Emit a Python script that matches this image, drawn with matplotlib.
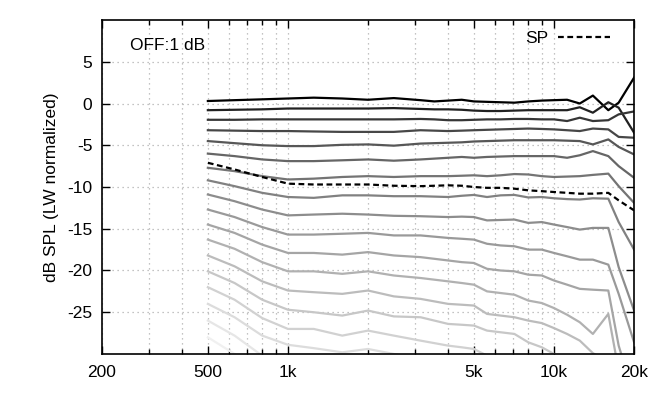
#!/usr/bin/env python3

import matplotlib

matplotlib.use("Agg")
import matplotlib.pyplot as plt
import numpy as np
from matplotlib.ticker import FixedLocator, NullFormatter

plt.rcParams["font.family"] = ["Liberation Sans", "DejaVu Sans"]

# frequency points (Hz)
freqs = [500, 630, 800, 1000, 1250, 1600, 2000, 2500, 3150, 3550, 4000, 4500,
         5000, 5600, 6300, 7100, 8000, 9000, 10000, 11200, 12500, 14000,
         16000, 17500, 20000]

# off-axis curves, top (black) to bottom (light grey), dB
curve_01 = [0.3, 0.4, 0.5, 0.6, 0.7, 0.6, 0.45, 0.65, 0.4, 0.25, 0.35, 0.45, 0.25,
            0.2, 0.15, 0.1, 0.25, 0.35, 0.4, 0.45, 0.0, 0.95, -0.8, 0.1, 3.1]
curve_02 = [-0.8, -0.75, -0.7, -0.6, -0.6, -0.6, -0.6, -0.55, -0.65, -0.7, -0.7, -0.75,
            -0.85, -0.9, -0.9, -0.85, -0.8, -0.8, -0.8, -0.8, -0.45, -1.1, 0.15, -0.5, -3.5]
curve_03 = [-1.95, -1.95, -1.9, -1.9, -1.9, -1.9, -1.9, -1.9, -1.85, -1.9, -2.0, -2.0,
            -1.95, -1.9, -1.9, -1.85, -1.85, -1.9, -1.9, -2.1, -1.7, -2.1, -2.0, -1.3, -0.95]
curve_04 = [-3.2, -3.25, -3.3, -3.3, -3.35, -3.4, -3.4, -3.4, -3.2, -3.25, -3.3, -3.25,
            -3.2, -3.15, -3.1, -3.05, -3.0, -3.05, -3.1, -3.2, -3.3, -3.0, -3.1, -4.0, -4.1]
curve_05 = [-4.5, -4.75, -5.0, -5.1, -5.1, -4.95, -4.9, -5.05, -4.8, -4.75, -4.7, -4.65,
            -4.55, -4.5, -4.45, -4.4, -4.4, -4.4, -4.4, -4.45, -4.5, -4.9, -4.3, -5.2, -6.1]
curve_06 = [-6.0, -6.3, -6.7, -6.9, -6.9, -6.8, -6.7, -6.85, -6.7, -6.6, -6.5, -6.4,
            -6.5, -6.4, -6.35, -6.3, -6.3, -6.3, -6.3, -6.5, -6.2, -5.7, -6.3, -7.5, -8.9]
curve_07 = [-7.7, -8.1, -8.7, -9.1, -9.0, -8.8, -8.7, -8.8, -8.7, -8.7, -8.7, -8.65,
            -8.6, -8.7, -8.6, -8.45, -8.5, -8.7, -8.8, -8.75, -8.7, -8.55, -8.4, -9.9, -11.9]
curve_08 = [-9.2, -9.9, -10.7, -11.2, -11.3, -11.0, -11.0, -11.1, -11.1, -11.15, -11.2, -11.05,
            -10.95, -11.2, -11.0, -10.95, -11.25, -11.2, -11.35, -11.45, -11.5, -11.35, -11.4,
            -14.2, -17.5]
curve_09 = [-10.9, -11.7, -12.7, -13.4, -13.3, -13.2, -13.3, -13.45, -13.5, -13.55, -13.6, -13.55,
            -13.6, -14.0, -13.95, -13.9, -14.3, -14.2, -14.5, -14.8, -15.1, -14.9, -14.9,
            -19.6, -24.8]
curve_10 = [-12.7, -13.6, -14.8, -15.7, -15.7, -15.6, -15.5, -15.8, -15.8, -15.95, -16.1, -16.2,
            -16.3, -16.8, -17.0, -17.1, -17.5, -17.5, -17.9, -18.3, -18.7, -18.7, -19.3,
            -22.8, -28.6]
curve_11 = [-14.5, -15.5, -16.9, -17.9, -17.9, -18.1, -17.8, -18.2, -18.4, -18.6, -18.8, -19.0,
            -19.1, -19.8, -20.0, -20.1, -20.5, -20.6, -21.2, -21.7, -22.2, -22.3, -22.4,
            -29.0, -35.0]
curve_12 = [-16.3, -17.4, -19.0, -20.1, -20.1, -20.4, -20.1, -20.6, -20.9, -21.1, -21.3, -21.5,
            -21.7, -22.5, -22.7, -22.9, -23.6, -23.9, -24.5, -25.3, -26.2, -27.6, -25.2,
            -32.0, -36.0]
curve_13 = [-18.2, -19.5, -21.3, -22.4, -22.6, -22.8, -22.4, -23.1, -23.4, -23.7, -24.0, -24.1,
            -24.2, -25.2, -25.4, -25.6, -26.0, -26.3, -26.9, -27.6, -28.4, -29.9, -31.0,
            -36.0, -40.0]
curve_14 = [-20.1, -21.5, -23.5, -24.7, -25.0, -25.4, -24.8, -25.5, -25.6, -26.0, -26.4, -26.5,
            -26.6, -27.2, -27.4, -27.6, -28.6, -29.2, -30.0, -31.0, -32.0, -33.0, -34.0,
            -38.0, -42.0]
curve_15 = [-22.0, -23.5, -25.7, -27.0, -27.0, -27.8, -27.2, -27.8, -28.4, -28.7, -29.0, -29.2,
            -29.4, -30.2, -31.0, -31.5, -32.0, -32.5, -33.0, -33.5, -34.0, -34.5, -35.0,
            -40.0, -44.0]
curve_16 = [-24.0, -25.6, -27.8, -28.9, -29.3, -29.8, -29.4, -30.0, -30.6, -31.0, -31.4, -31.6,
            -31.8, -32.5, -33.0, -33.5, -34.0, -34.5, -35.0, -35.5, -36.0, -36.5, -37.0,
            -41.0, -45.0]
curve_17 = [-26.0, -27.8, -30.2, -31.5, -31.8, -32.3, -32.0, -32.6, -33.2, -33.6, -34.0, -34.2,
            -34.5, -35.2, -35.8, -36.3, -36.8, -37.3, -37.8, -38.3, -38.8, -39.3, -39.8,
            -43.0, -47.0]
curve_18 = [-28.0, -30.0, -32.5, -34.0, -34.4, -34.9, -34.6, -35.2, -35.8, -36.2, -36.6, -36.8,
            -37.1, -37.8, -38.4, -38.9, -39.4, -39.9, -40.4, -40.9, -41.4, -41.9, -42.4,
            -45.5, -49.5]

# sound power curve (dashed)
sp_curve = [-7.1, -7.9, -8.8, -9.6, -9.7, -9.7, -9.7, -9.85, -9.9, -9.85, -9.8, -9.85,
            -10.0, -10.1, -10.1, -10.2, -10.4, -10.5, -10.6, -10.7, -10.8, -10.8, -10.7,
            -11.6, -12.8]

off_axis = [curve_01, curve_02, curve_03, curve_04, curve_05, curve_06, curve_07, curve_08,
            curve_09, curve_10, curve_11, curve_12, curve_13, curve_14, curve_15, curve_16,
            curve_17, curve_18]

x_major = [200, 500, 1000, 5000, 10000, 20000]
x_major_labels = ["200", "500", "1k", "5k", "10k", "20k"]
x_minor = [300, 400, 600, 700, 800, 900, 2000, 3000, 4000, 6000, 7000, 8000, 9000]
y_ticks = [-25, -20, -15, -10, -5, 0, 5]


def main() -> int:
    fig = plt.figure(figsize=(6.71, 3.98), dpi=100)
    ax = fig.add_axes([0.152, 0.1106, 0.793, 0.8391])

    # grey ramp, darkening quicker near the top curves
    steps = np.linspace(0.0, 1.0, len(off_axis))
    greys = 0.94 * steps ** 0.7
    for values, g in zip(off_axis, greys):
        ax.plot(freqs, values, color=(g, g, g), lw=1.6, solid_joinstyle="round")
    ax.plot(freqs, sp_curve, color="black", lw=1.6, ls=(0, (2.6, 1.6)), label="SP")

    ax.set_xscale("log")
    ax.set_xlim(200, 20000)
    ax.set_ylim(-30, 10)

    ax.xaxis.set_major_locator(FixedLocator(x_major))
    ax.set_xticklabels(x_major_labels)
    ax.xaxis.set_minor_locator(FixedLocator(x_minor))
    ax.xaxis.set_minor_formatter(NullFormatter())
    ax.set_yticks(y_ticks)
    ax.set_yticklabels([str(v) for v in y_ticks])

    ax.tick_params(which="both", direction="in", top=True, right=True, labelsize=12.5,
                   color="black", width=1.0)
    ax.tick_params(which="major", length=6, pad=7)
    ax.tick_params(which="minor", length=3.5)
    ax.tick_params(axis="x", which="major", pad=8)

    ax.grid(which="major", axis="both", color="#b0b0b0", ls=(0, (1, 3)), lw=0.9)
    ax.grid(which="minor", axis="x", color="#b0b0b0", ls=(0, (1, 3)), lw=0.9)
    for spine in ax.spines.values():
        spine.set_linewidth(1.2)

    ax.set_ylabel("dB SPL (LW normalized)", fontsize=12.5, labelpad=6)
    ax.text(0.053, 0.925, "OFF:1 dB", transform=ax.transAxes, fontsize=12.5,
            ha="left", va="center")
    ax.legend(loc="upper right", frameon=False, fontsize=12.5, markerfirst=False,
              handlelength=3.0, handletextpad=0.6, borderaxespad=0.2,
              bbox_to_anchor=(0.975, 1.0))

    fig.savefig("out.png", dpi=100)
    plt.close(fig)
    return 0


if __name__ == "__main__":
    raise SystemExit(main())
